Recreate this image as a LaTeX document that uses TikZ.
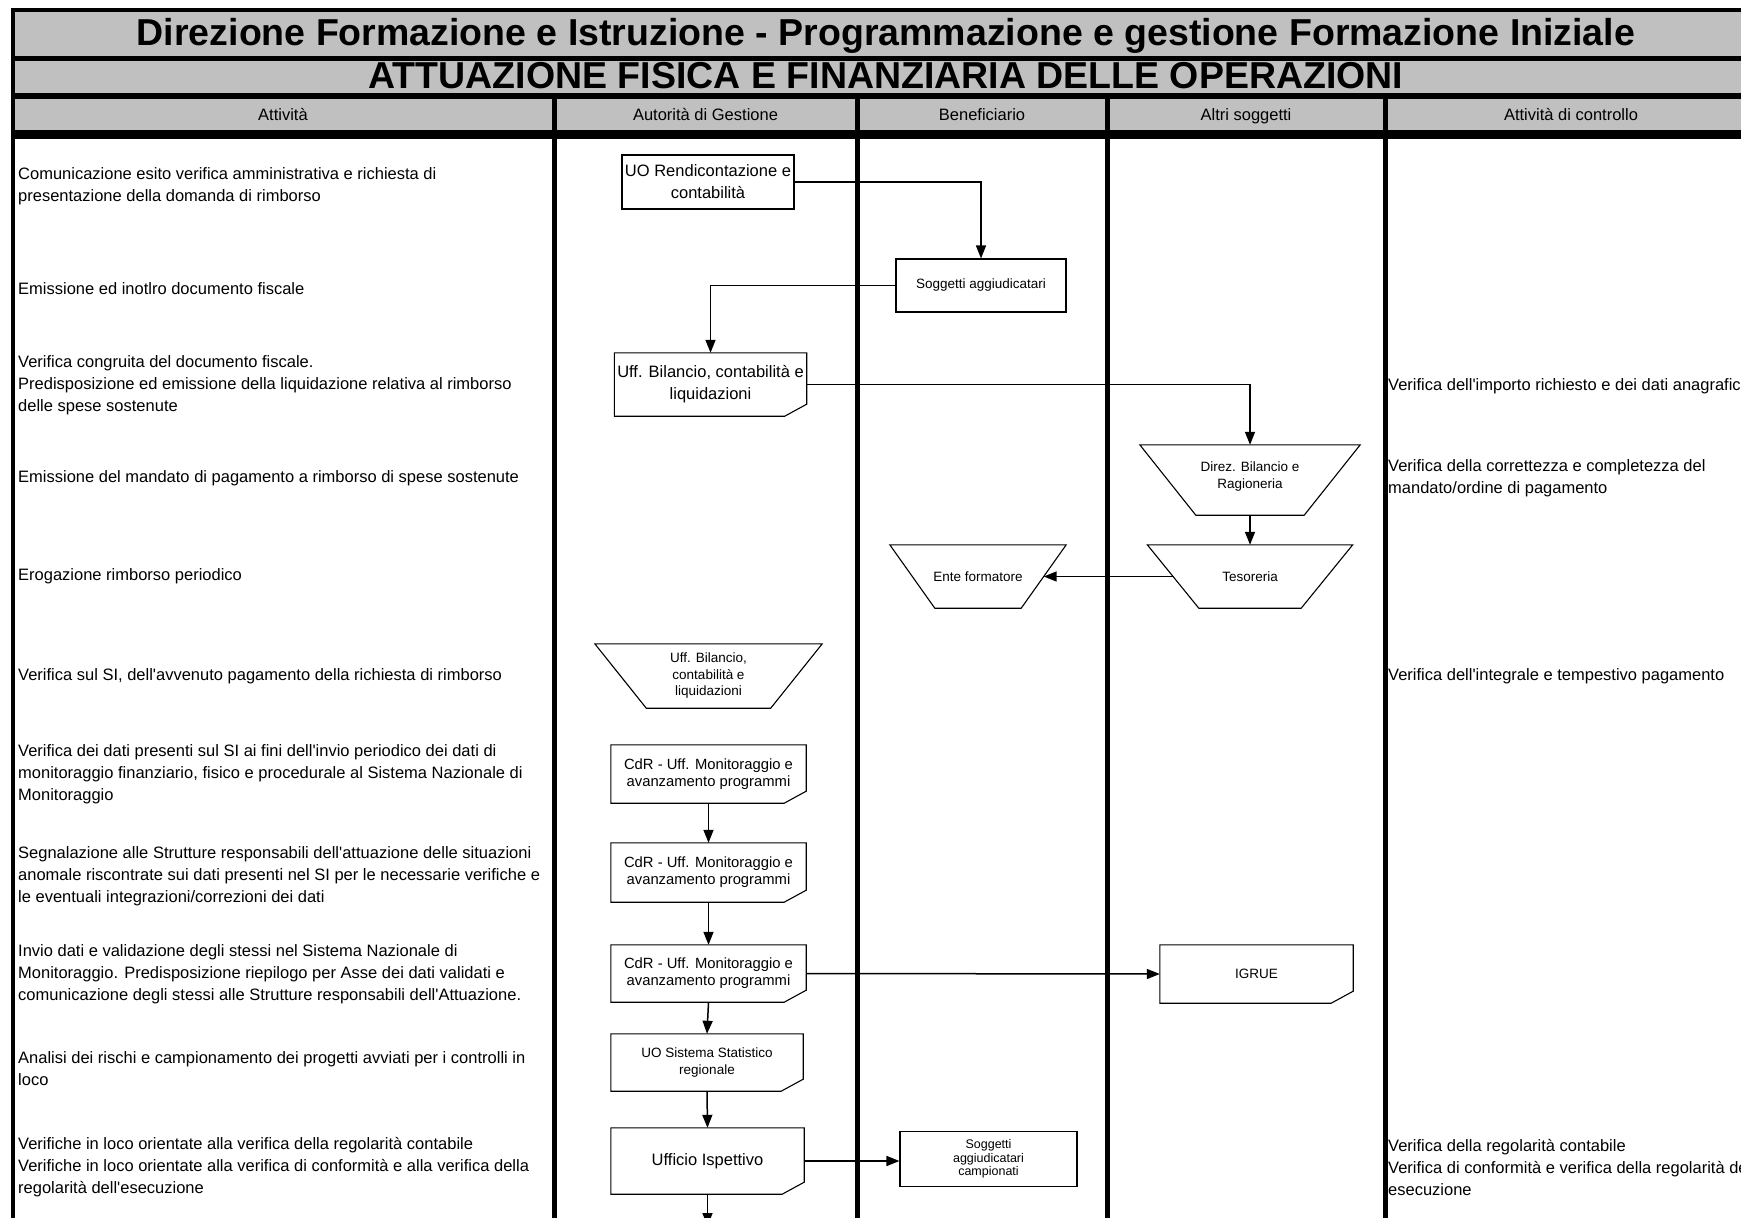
\documentclass[tikz,border=0pt]{standalone}
\usepackage{fontspec}
\setmainfont{Liberation Sans}[Ligatures=TeXOff]
\usetikzlibrary{arrows.meta,calc}
\definecolor{hdrgray}{HTML}{C0C0C0}
\newcommand\docshape[1]{\draw[line width=1.1pt] (#1.north west) -- (#1.north east) -- ([yshift=12pt]#1.south east) -- ([xshift=-22pt]#1.south east) -- (#1.south west) -- cycle;}
\newcommand\trapshape[2]{\draw[line width=1.1pt] (#1.north west) -- (#1.north east) -- ([xshift=-#2]#1.south east) -- ([xshift=#2]#1.south west) -- cycle;}
\tikzset{
  ttl/.style={font=\bfseries\fontsize{37.5}{40}\selectfont, inner sep=0pt, anchor=base},
  hdr/.style={font=\fontsize{16.5}{20}\selectfont, inner sep=0pt, anchor=base},
  txt/.style={font=\fontsize{16.5}{22}\selectfont, align=left, anchor=west, inner sep=0pt},
  bigf/.style={font=\fontsize{16.5}{22}\selectfont},
  midf/.style={font=\fontsize{14.8}{17}\selectfont},
  smallf/.style={font=\fontsize{13.5}{16.5}\selectfont},
  shp/.style={inner sep=0pt, align=center},
  rbox/.style={shp, draw, line width=1.1pt},
  arr/.style={line width=1.5pt, -{Triangle[length=13pt,width=10pt]}},
}
\begin{document}
\begin{tikzpicture}[x=1pt,y=-1pt]
\clip (0,0) rectangle (1741,1218);
\fill[white] (0,0) rectangle (1741,1218);
% header bands
\fill[hdrgray] (13,10) rectangle (1760,134);
\draw[line width=4pt] (1760,10) -- (13,10);
\draw[line width=4pt] (13,8) -- (13,1230);
\draw[line width=5pt] (13,58.5) -- (1760,58.5);
\draw[line width=5.5pt] (13,96) -- (1760,96);
\fill (11,130) rectangle (1760,138.5);
\foreach \x in {554,857,1107,1385} \draw[line width=5pt] (\x,96) -- (\x,1230);

\node[ttl] (t1) at (886,45) {Direzione Formazione e Istruzione - Programmazione e gestione Formazione Iniziale};
\node[ttl] (t2) at (886,88) {ATTUAZIONE FISICA E FINANZIARIA DELLE OPERAZIONI};

\node[hdr] (h1) at (283,120) {Attività};
\node[hdr] (h2) at (705.5,120) {Autorità di Gestione};
\node[hdr] (h3) at (982,120) {Beneficiario};
\node[hdr] (h4) at (1246,120) {Altri soggetti};
\node[hdr] (h5) at (1571,120) {Attività di controllo};

% activity texts
\node[txt] (a1) at (18,186.5) {Comunicazione esito verifica amministrativa e richiesta di\\presentazione della domanda di rimborso};
\node[txt] (a2) at (18,289) {Emissione ed inotlro documento fiscale};
\node[txt] (a3) at (18,385) {Verifica congruita del documento fiscale.\\Predisposizione ed emissione della liquidazione relativa al rimborso\\delle spese sostenute};
\node[txt] (a4) at (18,478.5) {Emissione del mandato di pagamento a rimborso di spese sostenute};
\node[txt] (a5) at (18,576) {Erogazione rimborso periodico};
\node[txt] (a6) at (18,676) {Verifica sul SI, dell'avvenuto pagamento della richiesta di rimborso};
\node[txt] (a7) at (18,774) {Verifica dei dati presenti sul SI ai fini dell'invio periodico dei dati di\\monitoraggio finanziario, fisico e procedurale al Sistema Nazionale di\\Monitoraggio};
\node[txt] (a8) at (18,876) {Segnalazione alle Strutture responsabili dell'attuazione delle situazioni\\anomale riscontrate sui dati presenti nel SI per le necessarie verifiche e\\le eventuali integrazioni/correzioni dei dati};
\node[txt] (a9) at (18,974) {Invio dati e validazione degli stessi nel Sistema Nazionale di\\Monitoraggio. Predisposizione riepilogo per Asse dei dati validati e\\comunicazione degli stessi alle Strutture responsabili dell'Attuazione.};
\node[txt] (a10) at (18,1069) {Analisi dei rischi e campionamento dei progetti avviati per i controlli in\\loco};
\node[txt] (a11) at (18,1167) {Verifiche in loco orientate alla verifica della regolarità contabile\\Verifiche in loco orientate alla verifica di conformità e alla verifica della\\regolarità dell'esecuzione};

% control texts
\node[txt] (c1) at (1388,386) {Verifica dell'importo richiesto e dei dati anagrafici};
\node[txt] (c2) at (1388,478.5) {Verifica della correttezza e completezza del\\mandato/ordine di pagamento};
\node[txt] (c3) at (1388,676) {Verifica dell'integrale e tempestivo pagamento};
\node[txt] (c4) at (1388,1167) {Verifica della regolarità contabile\\Verifica di conformità e verifica della regolarità dell'\\esecuzione};

% flow shapes
\node[rbox,bigf,minimum width=172pt,minimum height=54pt] (A) at (708,182) {UO Rendicontazione e\\contabilità};
\node[rbox,smallf,minimum width=170pt,minimum height=53pt] (B) at (981,285.5) {Soggetti aggiudicatari};
\node[shp,bigf,minimum width=192pt,minimum height=63pt] (C) at (710.5,384.5) {Uff. Bilancio, contabilità e\\liquidazioni};
\docshape{C}
\node[shp,minimum width=220pt,minimum height=70pt] (D) at (1250,480) {};
\trapshape{D}{56pt}
\node[shp,smallf] (Dt) at (1250,476.5) {Direz. Bilancio e\\Ragioneria};
\node[shp,smallf,minimum width=205pt,minimum height=63pt] (E) at (1250,576.5) {Tesoreria};
\trapshape{E}{51.5pt}
\node[shp,smallf,minimum width=176pt,minimum height=63pt] (F) at (978,576.5) {Ente formatore};
\trapshape{F}{45pt}
\node[shp,smallf,minimum width=227pt,minimum height=64pt] (G) at (708.5,676) {Uff. Bilancio,\\contabilità e\\liquidazioni};
\trapshape{G}{51.5pt}
\node[shp,midf,minimum width=195pt,minimum height=58pt] (H) at (708.5,774) {CdR - Uff. Monitoraggio e\\avanzamento programmi};
\docshape{H}
\node[shp,midf,minimum width=195pt,minimum height=59pt] (I) at (708.5,872.5) {CdR - Uff. Monitoraggio e\\avanzamento programmi};
\docshape{I}
\node[shp,midf,minimum width=195pt,minimum height=57pt] (J) at (708.5,973.5) {CdR - Uff. Monitoraggio e\\avanzamento programmi};
\docshape{J}
\node[shp,smallf,minimum width=193pt,minimum height=58pt] (K) at (1256.5,974) {IGRUE};
\docshape{K}
\node[shp,smallf,minimum width=192pt,minimum height=57pt] (L) at (707,1062.5) {UO Sistema Statistico\\regionale};
\docshape{L}
\node[shp,bigf,minimum width=193pt,minimum height=66pt] (M) at (707.5,1161) {Ufficio Ispettivo};
\docshape{M}
\node[rbox,minimum width=177pt,minimum height=55pt,font=\fontsize{12.5}{13.5}\selectfont] (N) at (988.5,1159) {Soggetti\\aggiudicatari\\campionati};
\coordinate (Mend) at (707.5,1226);

% connectors
\draw[arr] (A.east) -| (B.north);
\draw[arr] (B.west) -| (C.north);
\draw[arr] (C.east) -| (D.north);
\draw[arr] (D.south) -- (E.north);
\draw[arr] ($(E.west)+(25.75pt,0pt)$) -- ($(F.east)+(-22.5pt,0pt)$);
\draw[arr] (H.south) -- (I.north);
\draw[arr] (I.south) -- (J.north);
\draw[arr] (J.east) -- (K.west);
\draw[arr] (J.south) -- (L.north);
\draw[arr] (L.south) -- (M.north);
\draw[arr] (M.east) -- (M.east -| N.west);
\draw[arr] (M.south) -- (Mend);
\end{tikzpicture}
\end{document}
